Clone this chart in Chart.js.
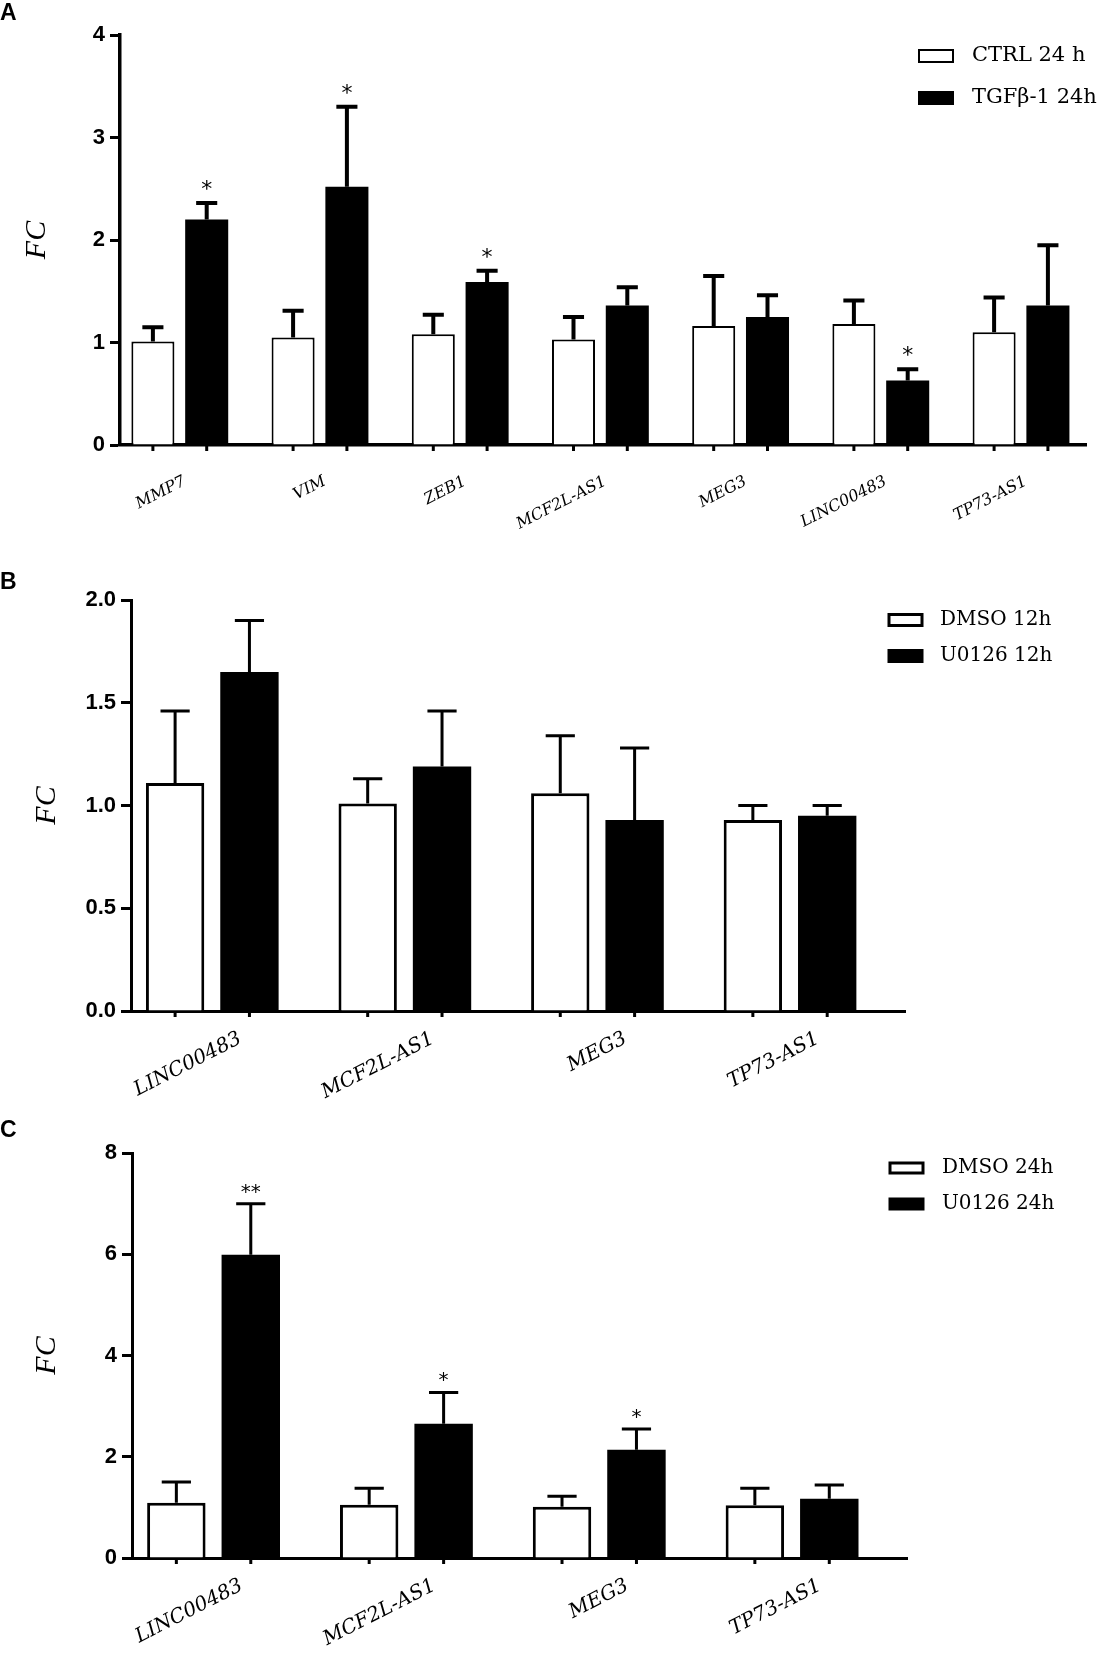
<!DOCTYPE html>
<html>
<head>
<meta charset="utf-8">
<title>FC bar charts</title>
<script src="https://cdn.jsdelivr.net/npm/chart.js@4.4.1/dist/chart.umd.min.js"></script>
<style>
  body { margin: 0; background: #fff; }
  .panel { position: absolute; left: 0; width: 1114px; }
  canvas { display: block; }
</style>
</head>
<body>
<div class="panel" style="top:0;height:540px"><canvas id="chartA" width="1114" height="540"></canvas></div>
<div class="panel" style="top:545px;height:565px"><canvas id="chartB" width="1114" height="565"></canvas></div>
<div class="panel" style="top:1095px;height:560px"><canvas id="chartC" width="1114" height="560"></canvas></div>

<script>
// Panel A - TGFb-1 treatment, 24 h
const genesA = ['MMP7', 'VIM', 'ZEB1', 'MCF2L-AS1', 'MEG3', 'LINC00483', 'TP73-AS1'];
const ctrlA = [1.01, 1.05, 1.08, 1.03, 1.16, 1.18, 1.10];
const ctrlErrA = [0.14, 0.26, 0.19, 0.22, 0.49, 0.23, 0.34];
const tgfA = [2.20, 2.52, 1.59, 1.36, 1.25, 0.63, 1.36];
const tgfErrA = [0.16, 0.78, 0.11, 0.18, 0.21, 0.11, 0.59];
const starsA = ['*', '*', '*', '', '', '*', ''];
const yTicksA = [0, 1, 2, 3, 4];

// Panel B - U0126, 12 h
const genesB = ['LINC00483', 'MCF2L-AS1', 'MEG3', 'TP73-AS1'];
const dmso12 = [1.11, 1.01, 1.06, 0.93];
const dmso12Err = [0.35, 0.12, 0.28, 0.07];
const u0126_12 = [1.65, 1.19, 0.93, 0.95];
const u0126_12Err = [0.25, 0.27, 0.35, 0.05];
const yTicksB = [0, 0.5, 1.0, 1.5, 2.0];

// Panel C - U0126, 24 h
const genesC = ['LINC00483', 'MCF2L-AS1', 'MEG3', 'TP73-AS1'];
const dmso24 = [1.09, 1.05, 1.01, 1.04];
const dmso24Err = [0.41, 0.33, 0.21, 0.34];
const u0126_24 = [5.99, 2.65, 2.14, 1.17];
const u0126_24Err = [1.01, 0.62, 0.41, 0.27];
const starsC = ['**', '*', '*', ''];
const yTicksC = [0, 2, 4, 6, 8];

// error bars (upper half only), significance stars and the small ticks under each bar
const errorBarPlugin = {
  id: 'errorBars',
  afterDatasetsDraw(chart, args, opts) {
    const ctx = chart.ctx;
    const yScale = chart.scales.y;
    const bottom = chart.chartArea.bottom;
    ctx.save();
    ctx.strokeStyle = '#000';
    ctx.fillStyle = '#000';
    ctx.lineCap = 'butt';
    chart.data.datasets.forEach((ds, di) => {
      const meta = chart.getDatasetMeta(di);
      meta.data.forEach((bar, i) => {
        const top = yScale.getPixelForValue(ds.data[i].y + ds.errors[i]);
        const half = bar.width * opts.capRatio / 2;
        ctx.lineWidth = opts.lineWidth;
        ctx.beginPath();
        ctx.moveTo(bar.x, bar.y);
        ctx.lineTo(bar.x, top);
        ctx.moveTo(bar.x - half, top);
        ctx.lineTo(bar.x + half, top);
        ctx.stroke();

        ctx.lineWidth = 3;
        ctx.beginPath();
        ctx.moveTo(bar.x, bottom);
        ctx.lineTo(bar.x, bottom + opts.tickLength);
        ctx.stroke();

        if (ds.stars && ds.stars[i]) {
          ctx.font = opts.starSize + 'px "DejaVu Sans"';
          ctx.textAlign = 'center';
          ctx.textBaseline = 'alphabetic';
          ctx.fillText(ds.stars[i], bar.x, top - opts.starGap + 0.55 * opts.starSize);
        }
      });
    });
    ctx.restore();
  }
};

// legend drawn in the upper right of the plot
const panelLegendPlugin = {
  id: 'panelLegend',
  afterDraw(chart, args, opts) {
    const ctx = chart.ctx;
    ctx.save();
    ctx.font = opts.fontSize + 'px "DejaVu Serif"';
    ctx.textAlign = 'left';
    ctx.textBaseline = 'middle';
    chart.data.datasets.forEach((ds, i) => {
      const cy = opts.rows[i];
      const bx = opts.boxX, bw = opts.boxW, bh = opts.boxH;
      ctx.fillStyle = ds.backgroundColor;
      ctx.fillRect(bx, cy - bh / 2, bw, bh);
      ctx.lineWidth = opts.boxBorder;
      ctx.strokeStyle = '#000';
      ctx.strokeRect(bx, cy - bh / 2, bw, bh);
      ctx.fillStyle = '#000';
      ctx.fillText(ds.label, opts.textX, cy);
    });
    ctx.restore();
  }
};

function makePanel(id, p) {
  const toPoints = arr => arr.map((v, i) => ({ x: i, y: v }));
  const common = {
    borderColor: '#000',
    categoryPercentage: p.catPct,
    barPercentage: p.barPct
  };
  return new Chart(document.getElementById(id), {
    type: 'bar',
    data: {
      datasets: [
        Object.assign({
          label: p.names[0],
          data: toPoints(p.open),
          errors: p.openErr,
          backgroundColor: '#fff',
          borderWidth: p.openBorder
        }, common),
        Object.assign({
          label: p.names[1],
          data: toPoints(p.filled),
          errors: p.filledErr,
          stars: p.stars,
          backgroundColor: '#000',
          borderWidth: 0
        }, common)
      ]
    },
    options: {
      responsive: false,
      animation: false,
      layout: { padding: { left: 0, right: p.padRight, top: 0, bottom: 0 } },
      scales: {
        x: {
          type: 'linear',
          offset: false,
          min: p.xMin,
          max: p.xMax,
          afterBuildTicks: s => { s.ticks = p.labels.map((_, i) => ({ value: i })); },
          afterFit: s => { s.height = p.xHeight; },
          border: { display: true, color: '#000', width: p.axisWidth },
          grid: { offset: false, drawOnChartArea: false, drawTicks: false },
          ticks: {
            autoSkip: false,
            minRotation: 27,
            maxRotation: 27,
            padding: p.labelPad,
            labelOffset: p.labelOffset,
            color: '#000',
            font: { family: 'DejaVu Serif', style: 'italic', size: p.labelSize },
            callback: v => p.labels[v]
          }
        },
        y: {
          min: 0,
          max: p.yTicks[p.yTicks.length - 1],
          afterBuildTicks: s => { s.ticks = p.yTicks.map(v => ({ value: v })); },
          afterFit: s => { s.width = p.axisX; },
          border: { display: true, color: '#000', width: p.axisWidth },
          grid: { drawOnChartArea: false, drawTicks: true, tickLength: 10, tickWidth: 3, tickColor: '#000' },
          ticks: {
            padding: 5,
            color: '#000',
            font: { family: 'Liberation Sans', size: 22, weight: 'bold' },
            callback: v => p.decimals ? v.toFixed(p.decimals) : String(v)
          },
          title: {
            display: true,
            text: 'FC',
            color: '#000',
            font: { family: 'Liberation Serif', size: 30, style: 'italic' },
            padding: { top: p.yTitlePad, bottom: 0 }
          }
        }
      },
      plugins: {
        legend: { display: false },
        tooltip: { enabled: false },
        title: {
          display: true,
          text: p.letter,
          align: 'start',
          color: '#000',
          font: { family: 'Liberation Sans', size: 23, weight: 'bold' },
          padding: { top: p.letterTop, bottom: p.letterBottom }
        },
        errorBars: p.err,
        panelLegend: p.legend
      }
    },
    plugins: [errorBarPlugin, panelLegendPlugin]
  });
}

makePanel('chartA', {
  letter: 'A', letterTop: 0, letterBottom: 7.4,
  labels: genesA, names: ['CTRL 24 h', 'TGF\u03b2-1 24h'],
  open: ctrlA, openErr: ctrlErrA, filled: tgfA, filledErr: tgfErrA, stars: starsA,
  yTicks: yTicksA, decimals: 0,
  xMin: -0.4265, xMax: 6.4636, catPct: 0.7675, barPct: 0.80,
  axisX: 120, padRight: 28, xHeight: 95, axisWidth: 3.5, openBorder: 2,
  labelSize: 16, labelPad: 27, labelOffset: 5, yTitlePad: 19.6,
  err: { lineWidth: 4, capRatio: 0.49, tickLength: 6, starSize: 22, starGap: 19 },
  legend: { boxX: 919, boxW: 34, boxH: 12, boxBorder: 2, textX: 972, rows: [56, 98], fontSize: 21 }
});

makePanel('chartB', {
  letter: 'B', letterTop: 24.2, letterBottom: 3.2,
  labels: genesB, names: ['DMSO 12h', 'U0126 12h'],
  open: dmso12, openErr: dmso12Err, filled: u0126_12, filledErr: u0126_12Err, stars: null,
  yTicks: yTicksB, decimals: 1,
  xMin: -0.422, xMax: 3.597, catPct: 0.772, barPct: 0.785,
  axisX: 131, padRight: 209, xHeight: 99, axisWidth: 3, openBorder: 3,
  labelSize: 20, labelPad: 16, labelOffset: 28, yTitlePad: 29.5,
  err: { lineWidth: 3, capRatio: 0.5, tickLength: 6, starSize: 20, starGap: 18 },
  legend: { boxX: 889, boxW: 33, boxH: 11, boxBorder: 3, textX: 940, rows: [75, 111], fontSize: 20 }
});

makePanel('chartC', {
  letter: 'C', letterTop: 21.7, letterBottom: 8.7,
  labels: genesC, names: ['DMSO 24h', 'U0126 24h'],
  open: dmso24, openErr: dmso24Err, filled: u0126_24, filledErr: u0126_24Err, stars: starsC,
  yTicks: yTicksC, decimals: 0,
  xMin: -0.423, xMax: 3.596, catPct: 0.772, barPct: 0.785,
  axisX: 132, padRight: 207, xHeight: 97, axisWidth: 3, openBorder: 3,
  labelSize: 20, labelPad: 16, labelOffset: 28, yTitlePad: 29.5,
  err: { lineWidth: 3, capRatio: 0.5, tickLength: 6, starSize: 20, starGap: 17 },
  legend: { boxX: 890, boxW: 33, boxH: 10, boxBorder: 3, textX: 942, rows: [73, 109], fontSize: 20 }
});
</script>
</body>
</html>
